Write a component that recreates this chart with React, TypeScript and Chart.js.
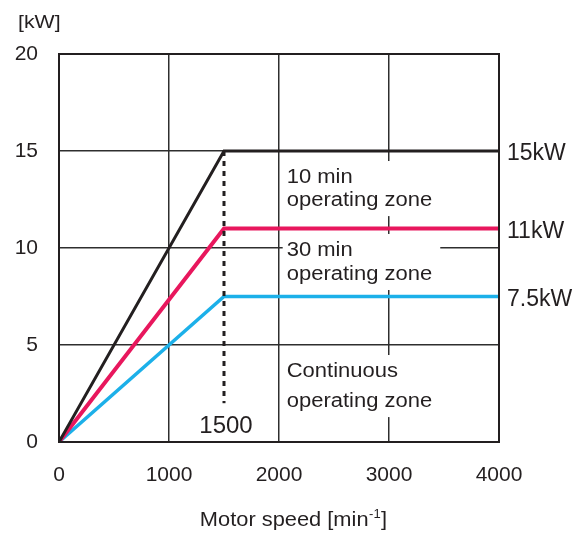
import React, { useEffect, useRef } from 'react';
import { Chart, registerables } from 'chart.js';

Chart.register(...registerables);

// ---- data ----
const speedPoints = [0, 1500, 4000];
const power15kW = [0, 15, 15];
const power11kW = [0, 11, 11];
const power7_5kW = [0, 7.5, 7.5];
const baseSpeedX = [1500, 1500];
const baseSpeedY = [15, 2];
const ratingLabels = ['15kW', '11kW', '7.5kW'];
const ratingValues = [15, 11, 7.5];
const zoneLines = [
  ['10 min', 'operating zone'],
  ['30 min', 'operating zone'],
  ['Continuous', 'operating zone'],
];
const zoneX = [2070, 2070, 2070];
const zoneBaselines = [
  [13.35, 12.16],
  [9.59, 8.35],
  [3.35, 1.8],
];
const baseSpeedLabel = '1500';
const yUnit = '[kW]';
const xTitleMain = 'Motor speed [min';
const xTitleSup = '-1';
const xTitleEnd = ']';

const FONT = '"Liberation Sans", Arial, Helvetica, sans-serif';
const INK = '#231f20';
const PINK = '#e8175d';
const BLUE = '#1cb0e9';

function stretchedText(ctx: CanvasRenderingContext2D, text: string, x: number, y: number, sx: number) {
  ctx.save();
  ctx.translate(x, y);
  ctx.scale(sx, 1);
  ctx.fillText(text, 0, 0);
  ctx.restore();
}

const annotations = {
  id: 'annotations',
  beforeDatasetsDraw(chart: any) {
    const { ctx, scales } = chart;
    const x = scales.x, y = scales.y;
    ctx.save();
    ctx.font = `20px ${FONT}`;
    ctx.textAlign = 'left';
    ctx.textBaseline = 'alphabetic';
    zoneLines.forEach((lines, i) => {
      const left = x.getPixelForValue(zoneX[i]);
      const b1 = y.getPixelForValue(zoneBaselines[i][0]);
      const b2 = y.getPixelForValue(zoneBaselines[i][1]);
      const w = Math.max(...lines.map((l) => ctx.measureText(l).width)) * 1.1;
      ctx.fillStyle = '#ffffff';
      ctx.fillRect(left - 4, b1 - 22, w + 12, b2 - b1 + 32);
      ctx.fillStyle = INK;
      stretchedText(ctx, lines[0], left, b1, 1.1);
      stretchedText(ctx, lines[1], left, b2, 1.1);
    });
    ctx.restore();
  },
  afterDatasetsDraw(chart: any) {
    const { ctx, chartArea, scales } = chart;
    const x = scales.x, y = scales.y;
    ctx.save();
    // frame
    ctx.strokeStyle = INK;
    ctx.lineWidth = 2;
    ctx.strokeRect(chartArea.left, chartArea.top, chartArea.right - chartArea.left, chartArea.bottom - chartArea.top);
    ctx.fillStyle = INK;
    // rating labels on the right
    ctx.font = `23px ${FONT}`;
    ctx.textAlign = 'left';
    ctx.textBaseline = 'middle';
    ratingLabels.forEach((t, i) => {
      ctx.fillText(t, chartArea.right + 8, y.getPixelForValue(ratingValues[i]) + 3);
    });
    // base speed label
    ctx.font = `24px ${FONT}`;
    ctx.textAlign = 'center';
    ctx.textBaseline = 'alphabetic';
    ctx.fillText(baseSpeedLabel, x.getPixelForValue(1500) + 2, y.getPixelForValue(0) - 9);
    // y unit
    ctx.font = `19px ${FONT}`;
    ctx.textAlign = 'left';
    stretchedText(ctx, yUnit, 18, 28, 1.12);
    // x title with superscript
    ctx.font = `21px ${FONT}`;
    const sx = 1.04;
    const wMain = ctx.measureText(xTitleMain).width * sx;
    const wEnd = ctx.measureText(xTitleEnd).width * sx;
    ctx.font = `13px ${FONT}`;
    const wSup = ctx.measureText(xTitleSup).width;
    const total = wMain + wSup + wEnd + 1;
    const startX = 293.5 - total / 2;
    const base = 525.5;
    ctx.font = `21px ${FONT}`;
    stretchedText(ctx, xTitleMain, startX, base, sx);
    ctx.font = `13px ${FONT}`;
    ctx.fillText(xTitleSup, startX + wMain + 0.5, base - 8);
    ctx.font = `21px ${FONT}`;
    stretchedText(ctx, xTitleEnd, startX + wMain + wSup + 1, base, sx);
    ctx.restore();
  },
};

export default function App() {
  const ref = useRef<HTMLCanvasElement | null>(null);
  useEffect(() => {
    document.body.style.margin = '0';
    const canvas = ref.current;
    if (!canvas) return;
    const mk = (ys: number[]) => speedPoints.map((s, i) => ({ x: s, y: ys[i] }));
    const chart = new Chart(canvas, {
      type: 'line',
      data: {
        datasets: [
          {
            label: 'base speed',
            data: baseSpeedX.map((s, i) => ({ x: s, y: baseSpeedY[i] })),
            borderColor: INK,
            borderWidth: 3,
            borderDash: [5, 5],
            pointRadius: 0,
          },
          {
            label: '15kW',
            data: mk(power15kW),
            borderColor: INK,
            borderWidth: 3,
            pointRadius: 0,
            borderJoinStyle: 'miter',
          },
          {
            label: '11kW',
            data: mk(power11kW),
            borderColor: PINK,
            borderWidth: 4,
            pointRadius: 0,
            borderJoinStyle: 'miter',
          },
          {
            label: '7.5kW',
            data: mk(power7_5kW),
            borderColor: BLUE,
            borderWidth: 3.5,
            pointRadius: 0,
            borderJoinStyle: 'miter',
          },
        ],
      },
      options: {
        responsive: false,
        animation: false,
        devicePixelRatio: 1,
        layout: { padding: { top: 54, right: 79, left: 0, bottom: 0 } },
        plugins: { legend: { display: false }, tooltip: { enabled: false }, title: { display: false } },
        scales: {
          x: {
            type: 'linear',
            min: 0,
            max: 4000,
            afterFit: (s: any) => { s.height = 91; },
            ticks: {
              stepSize: 1000,
              padding: 21,
              color: INK,
              font: { family: FONT, size: 21 },
              maxRotation: 0,
              callback: (v: any) => String(v),
            },
            grid: { color: '#2e2e2e', lineWidth: 1.5, drawTicks: false },
            border: { display: false },
          },
          y: {
            type: 'linear',
            min: 0,
            max: 20,
            afterFit: (s: any) => { s.width = 59; },
            ticks: {
              stepSize: 5,
              padding: 21,
              color: INK,
              font: { family: FONT, size: 21 },
              callback: (v: any) => String(v),
            },
            grid: { color: '#2e2e2e', lineWidth: 1.5, drawTicks: false },
            border: { display: false },
          },
        },
      },
      plugins: [annotations],
    });
    return () => chart.destroy();
  }, []);
  return (
    <div style={{ width: 578, height: 533 }}>
      <canvas ref={ref} width={578} height={533} />
    </div>
  );
}
